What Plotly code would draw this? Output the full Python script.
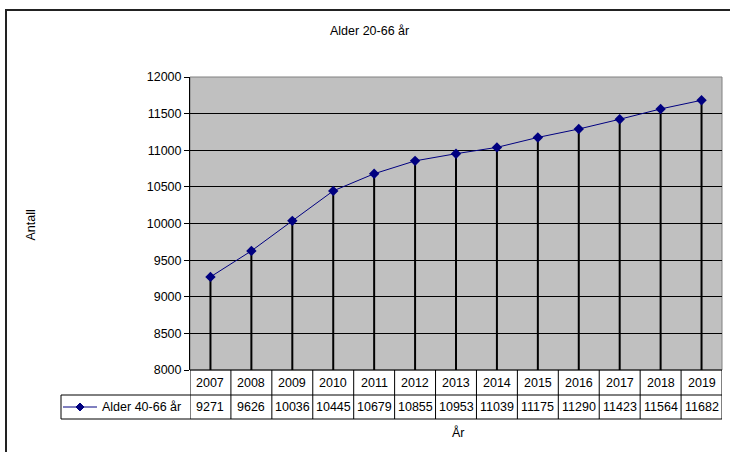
import plotly.graph_objects as go

# ---- data ----
years = ["2007", "2008", "2009", "2010", "2011", "2012", "2013",
         "2014", "2015", "2016", "2017", "2018", "2019"]
values = [9271, 9626, 10036, 10445, 10679, 10855, 10953,
          11039, 11175, 11290, 11423, 11564, 11682]
series_name = "Alder 40-66 år"
title_text = "Alder 20-66 år"
y_title = "Antall"
x_title = "År"
y_min, y_max, y_step = 8000, 12000, 500

# ---- layout geometry (pixels) ----
W, H = 730, 452
L, R, T, B = 190, 722, 77, 370
FONT = "Liberation Sans, Arial, sans-serif"
FS = 12.5

def px(xp):
    return (xp - L) / (R - L)

def py(yp):
    return (B - yp) / (B - T)

n = len(years)
idx = list(range(n))

fig = go.Figure()

# drop lines
dx, dy = [], []
for i, v in zip(idx, values):
    dx += [i, i, None]
    dy += [y_min, v, None]
fig.add_trace(go.Scatter(x=dx, y=dy, mode="lines",
                         line=dict(color="black", width=2),
                         hoverinfo="skip", showlegend=False))

# main series
fig.add_trace(go.Scatter(x=idx, y=values, mode="lines+markers", name=series_name,
                         line=dict(color="#000080", width=1),
                         marker=dict(symbol="diamond", size=8, color="#000080"),
                         showlegend=False))

shapes = []
# outer frame
shapes.append(dict(type="rect", xref="paper", yref="paper",
                   x0=px(6), x1=px(740), y0=py(470), y1=py(10),
                   line=dict(color="#222222", width=2), layer="below"))
# plot-area border (top/right gray)
shapes.append(dict(type="rect", xref="paper", yref="paper",
                   x0=0, x1=1, y0=0, y1=1,
                   line=dict(color="#808080", width=1), layer="below"))

# data table
r1_top, r1_bot, r2_bot = B, 395, 419
leg_left = 61
line_c = "black"
for yy, x_left in [(r1_top, L), (r1_bot, leg_left), (r2_bot, leg_left)]:
    shapes.append(dict(type="line", xref="paper", yref="paper",
                       x0=px(x_left), x1=1, y0=py(yy), y1=py(yy),
                       line=dict(color=line_c, width=1)))
for k in range(n + 1):
    shapes.append(dict(type="line", xref="x", yref="paper",
                       x0=k - 0.5, x1=k - 0.5, y0=py(r1_top), y1=py(r2_bot),
                       line=dict(color=line_c, width=1)))
shapes.append(dict(type="line", xref="paper", yref="paper",
                   x0=px(leg_left), x1=px(leg_left), y0=py(r1_bot), y1=py(r2_bot),
                   line=dict(color=line_c, width=1)))

# legend key in table
ly = (r1_bot + r2_bot) / 2
shapes.append(dict(type="line", xref="paper", yref="paper",
                   x0=px(63), x1=px(97), y0=py(ly), y1=py(ly),
                   line=dict(color="#000080", width=1)))
cx, d = 80, 4
shapes.append(dict(type="path", xref="paper", yref="paper",
                   path=f"M {px(cx)} {py(ly-d)} L {px(cx+d)} {py(ly)} L {px(cx)} {py(ly+d)} L {px(cx-d)} {py(ly)} Z",
                   fillcolor="#000080", line=dict(color="#000080", width=1)))

annotations = []
r1_mid = (r1_top + r1_bot) / 2
for i, (yr, v) in enumerate(zip(years, values)):
    annotations.append(dict(x=i, xref="x", y=py(r1_mid), yref="paper",
                            text=yr, showarrow=False, xanchor="center", yanchor="middle",
                            font=dict(family=FONT, size=FS, color="black")))
    annotations.append(dict(x=i, xref="x", y=py(ly), yref="paper",
                            text=str(v), showarrow=False, xanchor="center", yanchor="middle",
                            font=dict(family=FONT, size=FS, color="black")))
annotations.append(dict(x=px(100), xref="paper", y=py(ly), yref="paper",
                        text=series_name, showarrow=False, xanchor="left", yanchor="middle",
                        font=dict(family=FONT, size=FS, color="black")))
annotations.append(dict(x=px(369), xref="paper", y=py(31), yref="paper",
                        text=title_text, showarrow=False, xanchor="center", yanchor="middle",
                        font=dict(family=FONT, size=FS, color="black")))
annotations.append(dict(x=px(30.5), xref="paper", y=py(225), yref="paper",
                        text=y_title, textangle=-90, showarrow=False,
                        xanchor="center", yanchor="middle",
                        font=dict(family=FONT, size=FS, color="black")))
annotations.append(dict(x=px(458), xref="paper", y=py(432), yref="paper",
                        text=x_title, showarrow=False, xanchor="center", yanchor="middle",
                        font=dict(family=FONT, size=FS, color="black")))

fig.update_layout(
    width=W, height=H,
    margin=dict(l=L, r=W - R, t=T, b=H - B, pad=0),
    paper_bgcolor="white", plot_bgcolor="#C0C0C0",
    shapes=shapes, annotations=annotations,
    showlegend=False,
    font=dict(family=FONT, size=FS, color="black"),
)
fig.update_xaxes(range=[-0.5, n - 0.5], showticklabels=False, showgrid=False,
                 zeroline=False, showline=False, ticks="", fixedrange=True)
fig.update_yaxes(range=[y_min, y_max], dtick=y_step, tick0=y_min, tickformat="d",
                 showgrid=True, gridcolor="black", gridwidth=1,
                 zeroline=False, showline=True, linecolor="black", linewidth=1,
                 ticks="outside", ticklen=5, tickcolor="black",
                 tickfont=dict(family=FONT, size=FS, color="black"),
                 fixedrange=True)

fig.write_html("out.html",
               config={"displayModeBar": False},
               post_script="document.body.style.margin='0';document.body.style.overflow='hidden';")
